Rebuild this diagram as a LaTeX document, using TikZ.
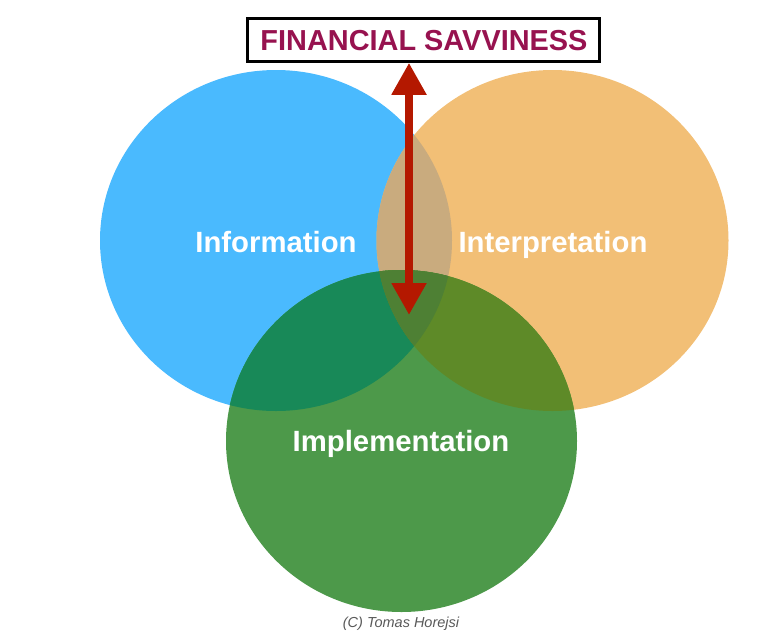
\documentclass[tikz,border=0pt]{standalone}
\usepackage{fontspec}
\setmainfont{Liberation Sans}
\usetikzlibrary{arrows.meta}
\definecolor{cblue}{RGB}{74,186,254}
\definecolor{corange}{RGB}{242,191,118}
\definecolor{cgreen}{RGB}{77,153,74}
\definecolor{cbo}{RGB}{201,171,126}
\definecolor{cbg}{RGB}{24,137,88}
\definecolor{cog}{RGB}{94,138,40}
\definecolor{cbog}{RGB}{78,128,52}
\definecolor{carrow}{RGB}{180,24,0}
\definecolor{ctitle}{RGB}{151,18,79}
\tikzset{
  label/.style={text=white,font=\fontsize{29.3}{31}\selectfont\bfseries,inner sep=0pt,anchor=base},
  titlebox/.style={draw=black,line width=2.5pt,fill=white,minimum width=352pt,minimum height=43pt,inner sep=0pt},
  titletext/.style={text=ctitle,font=\fontsize{28.9}{31}\selectfont\bfseries,inner sep=0pt,anchor=base},
  dblarrow/.style={draw=carrow,line width=8pt,{Triangle[width=33pt,length=32pt]}-{Triangle[width=33pt,length=32pt]}},
  copy/.style={text=black!65,font=\fontsize{14.5}{16}\selectfont\itshape,inner sep=0pt,anchor=base}
}
\begin{document}
\begin{tikzpicture}[x=1pt,y=-1pt]
\useasboundingbox (0,0) rectangle (768,635);
\def\blue{(276,240.5) ellipse [x radius=176pt, y radius=170.5pt]}
\def\orange{(552.5,240.5) ellipse [x radius=176pt, y radius=170.5pt]}
\def\green{(401.5,441) ellipse [x radius=175.5pt, y radius=171pt]}
\fill[cblue] \blue;
\fill[corange] \orange;
\fill[cgreen] \green;
\begin{scope}
  \clip \blue;
  \fill[cbo] \orange;
  \fill[cbg] \green;
  \clip \orange;
  \fill[cbog] \green;
\end{scope}
\begin{scope}
  \clip \orange;
  \clip \green;
  \fill[cog] (0,0) rectangle (768,635);
  \clip \blue;
  \fill[cbog] (0,0) rectangle (768,635);
\end{scope}
\node[label] (info) at (276,252) {Information};
\node[label] (interp) at (553,252) {Interpretation};
\node[label] (impl) at (401,451) {Implementation};
\node[titlebox] (title) at (423.5,40) {};
\node[titletext] (titlet) at (424,50) {FINANCIAL SAVVINESS};
\coordinate (arrowend) at (409,315);
\draw[dblarrow] (title.south -| arrowend) -- (arrowend);
\node[copy] (copyr) at (401,627) {(C) Tomas Horejsi};
\end{tikzpicture}
\end{document}
